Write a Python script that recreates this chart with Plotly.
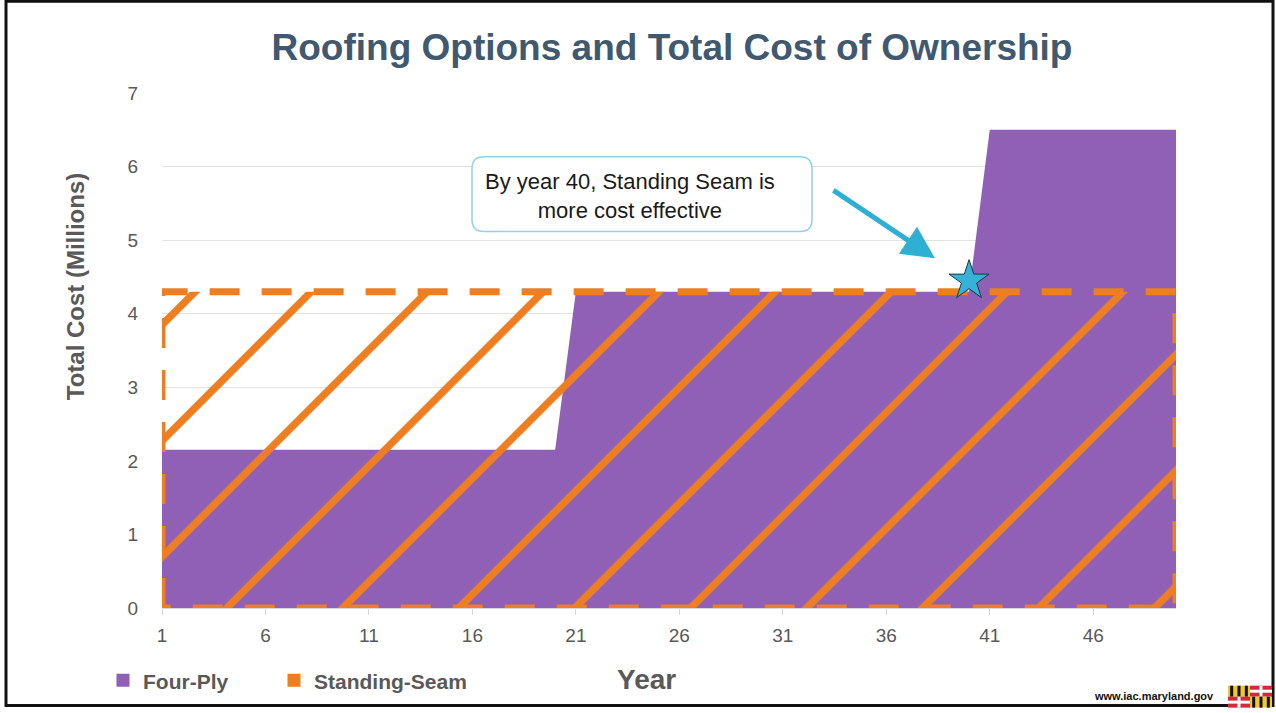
import plotly.graph_objects as go

# ---------------- data ----------------
years = list(range(1, 51))
four_ply = [2.15] * 20 + [4.3] * 20 + [6.5] * 10
standing_seam = [4.3] * 50
x_ticks = [1, 6, 11, 16, 21, 26, 31, 36, 41, 46]
y_ticks = [0, 1, 2, 3, 4, 5, 6, 7]
star_year = [40]
star_value = [4.45]

title = "Roofing Options and Total Cost of Ownership"
callout = "By year 40, Standing Seam is<br>more cost effective"

PURPLE = "#8F60B6"
ORANGE = "#EE7E22"
CYAN = "#36B2D8"
GREY = "#595959"
FONT = "Liberation Sans, Arial"

W, H = 1276, 713
L, R, T, B = 162, 100, 93, 103
PW, PH = W - L - R, H - T - B


def px(xp, yp):
    return (xp - L) / PW, (H - B - yp) / PH


fig = go.Figure()

# Four-Ply area
fig.add_trace(go.Scatter(
    x=years, y=four_ply, mode="lines", fill="tozeroy",
    line=dict(color=PURPLE, width=0), fillcolor=PURPLE,
    showlegend=False, hoverinfo="skip"))

# Standing-Seam area (closed outline with dashed border + hatch)
ss_x = [years[0]] + years + [years[-1], years[0]]
ss_y = [0] + standing_seam + [0, 0]
fig.add_trace(go.Scatter(
    x=ss_x, y=ss_y, mode="lines", fill="toself",
    line=dict(color=ORANGE, width=7, dash="30px,22px"),
    fillcolor="rgba(0,0,0,0)",
    fillpattern=dict(shape="/", fgcolor=ORANGE, fgopacity=1, bgcolor="rgba(0,0,0,0)",
                     size=82, solidity=0.09, fillmode="overlay"),
    showlegend=False, hoverinfo="skip"))

# star marker
fig.add_trace(go.Scatter(
    x=star_year, y=star_value, mode="markers",
    marker=dict(symbol="star", size=30, color=CYAN,
                line=dict(color="#1a3a40", width=1)),
    showlegend=False, hoverinfo="skip"))

# legend entries
fig.add_trace(go.Scatter(x=[None], y=[None], mode="markers", name="<b>Four-Ply</b>",
                         marker=dict(symbol="square", size=13, color=PURPLE),
                         legend="legend"))
fig.add_trace(go.Scatter(x=[None], y=[None], mode="markers", name="<b>Standing-Seam</b>",
                         marker=dict(symbol="square", size=13, color=ORANGE),
                         legend="legend2"))

shapes = []
# slide border
bx0, by1 = px(6, 1)
bx1, by0 = px(1273, 708)
shapes.append(dict(type="rect", xref="paper", yref="paper", x0=bx0, x1=bx1,
                   y0=by0, y1=by1, line=dict(color="#111111", width=3),
                   layer="above"))

# callout rounded box
x0p, y0p, x1p, y1p, r = 472, 157, 812, 232, 12


def P(a, b):
    u, v = px(a, b)
    return f"{u:.5f},{v:.5f}"


path = (f"M{P(x0p + r, y0p)} L{P(x1p - r, y0p)} Q{P(x1p, y0p)} {P(x1p, y0p + r)} "
        f"L{P(x1p, y1p - r)} Q{P(x1p, y1p)} {P(x1p - r, y1p)} "
        f"L{P(x0p + r, y1p)} Q{P(x0p, y1p)} {P(x0p, y1p - r)} "
        f"L{P(x0p, y0p + r)} Q{P(x0p, y0p)} {P(x0p + r, y0p)} Z")
shapes.append(dict(type="path", xref="paper", yref="paper", path=path,
                   line=dict(color="#8FD3E6", width=1.5), fillcolor="white"))

# Maryland flag (simplified)
fx0, fx1, fy0, fy1 = 1228, 1272, 688, 710
mx, my = (fx0 + fx1) / 2, (fy0 + fy1) / 2


def rect(a, b, c, d, col):
    u0, v0 = px(a, d)
    u1, v1 = px(c, b)
    shapes.append(dict(type="rect", xref="paper", yref="paper", x0=u0, x1=u1,
                       y0=v0, y1=v1, line=dict(width=0), fillcolor=col))


for (qa, qb, kind) in [(fx0, fy0, "y"), (mx, fy0, "r"), (fx0, my, "r"), (mx, my, "y")]:
    w_, h_ = (fx1 - fx0) / 2, (fy1 - fy0) / 2
    if kind == "y":
        rect(qa, qb, qa + w_, qb + h_, "#F2C72E")
        for k in range(3):
            rect(qa + w_ * (2 * k + 1) / 6 - 1.5, qb, qa + w_ * (2 * k + 1) / 6 + 1.5,
                 qb + h_, "#111111")
    else:
        rect(qa, qb, qa + w_, qb + h_, "#D8263A")
        rect(qa, qb + h_ / 2 - 1.5, qa + w_, qb + h_ / 2 + 1.5, "white")
        rect(qa + w_ / 2 - 1.5, qb, qa + w_ / 2 + 1.5, qb + h_, "white")

annotations = []
annotations.append(dict(xref="paper", yref="paper", x=px(630, 0)[0], y=px(0, 196)[1],
                        xanchor="center", yanchor="middle",
                        text=callout, showarrow=False, align="center",
                        font=dict(family=FONT, size=22, color="#1a1a1a")))
# arrow
hx, hy = px(935, 259)
annotations.append(dict(xref="paper", yref="paper", x=hx, y=hy, ax=832 - 935, ay=190 - 259,
                        text="", showarrow=True, arrowhead=2, arrowsize=1.3,
                        arrowwidth=5, arrowcolor="#2EAFD4"))
# y axis title
annotations.append(dict(xref="paper", yref="paper", x=px(75, 0)[0], y=px(0, 287)[1],
                        xanchor="center", yanchor="middle",
                        text="<b>Total Cost (Millions)</b>", textangle=-90, showarrow=False,
                        font=dict(family=FONT, size=24, color=GREY)))
# x axis title
annotations.append(dict(xref="paper", yref="paper", x=px(646, 0)[0], y=px(0, 682)[1],
                        xanchor="center", yanchor="middle",
                        text="<b>Year</b>", showarrow=False,
                        font=dict(family=FONT, size=28, color=GREY)))
# website
annotations.append(dict(xref="paper", yref="paper", x=px(1216, 0)[0], y=px(0, 698)[1],
                        xanchor="right", yanchor="middle",
                        text="<b>www.iac.maryland.gov</b>", showarrow=False,
                        font=dict(family=FONT, size=11, color="#111111")))

legend_common = dict(orientation="h", xanchor="left", yanchor="middle",
                     font=dict(family=FONT, size=21, color=GREY),
                     itemwidth=30, bgcolor="rgba(0,0,0,0)")

fig.update_layout(
    width=W, height=H, autosize=False,
    margin=dict(l=L, r=R, t=T, b=B),
    paper_bgcolor="white", plot_bgcolor="white",
    title=dict(text=f"<b>{title}</b>", x=px(672, 0)[0], xref="paper", xanchor="center",
               y=1 - 47 / H, yanchor="middle",
               font=dict(family=FONT, size=37, color="#41596F")),
    xaxis=dict(range=[1, 50], tickvals=x_ticks, showgrid=False, zeroline=False,
               showline=True, linecolor="#D9D9D9", linewidth=1,
               ticks="outside", ticklen=6, tickcolor="#D9D9D9",
               tickfont=dict(family="Liberation Sans Narrow, Arial Narrow, Liberation Sans",
                             size=19, color=GREY), ticklabelstandoff=4),
    yaxis=dict(range=[0, 7], tickvals=y_ticks, showgrid=True, gridcolor="#E3E3E3",
               gridwidth=1, zeroline=False, showline=False,
               tickfont=dict(family=FONT, size=19, color=GREY),
               ticklabelstandoff=23),
    legend=dict(x=px(103, 0)[0], y=px(0, 683)[1], **legend_common),
    legend2=dict(x=px(274, 0)[0], y=px(0, 683)[1], **legend_common),
    shapes=shapes, annotations=annotations,
)

fig.write_html("out.html", config={"displayModeBar": False},
               post_script="document.body.style.margin='0';document.body.style.padding='0';")
